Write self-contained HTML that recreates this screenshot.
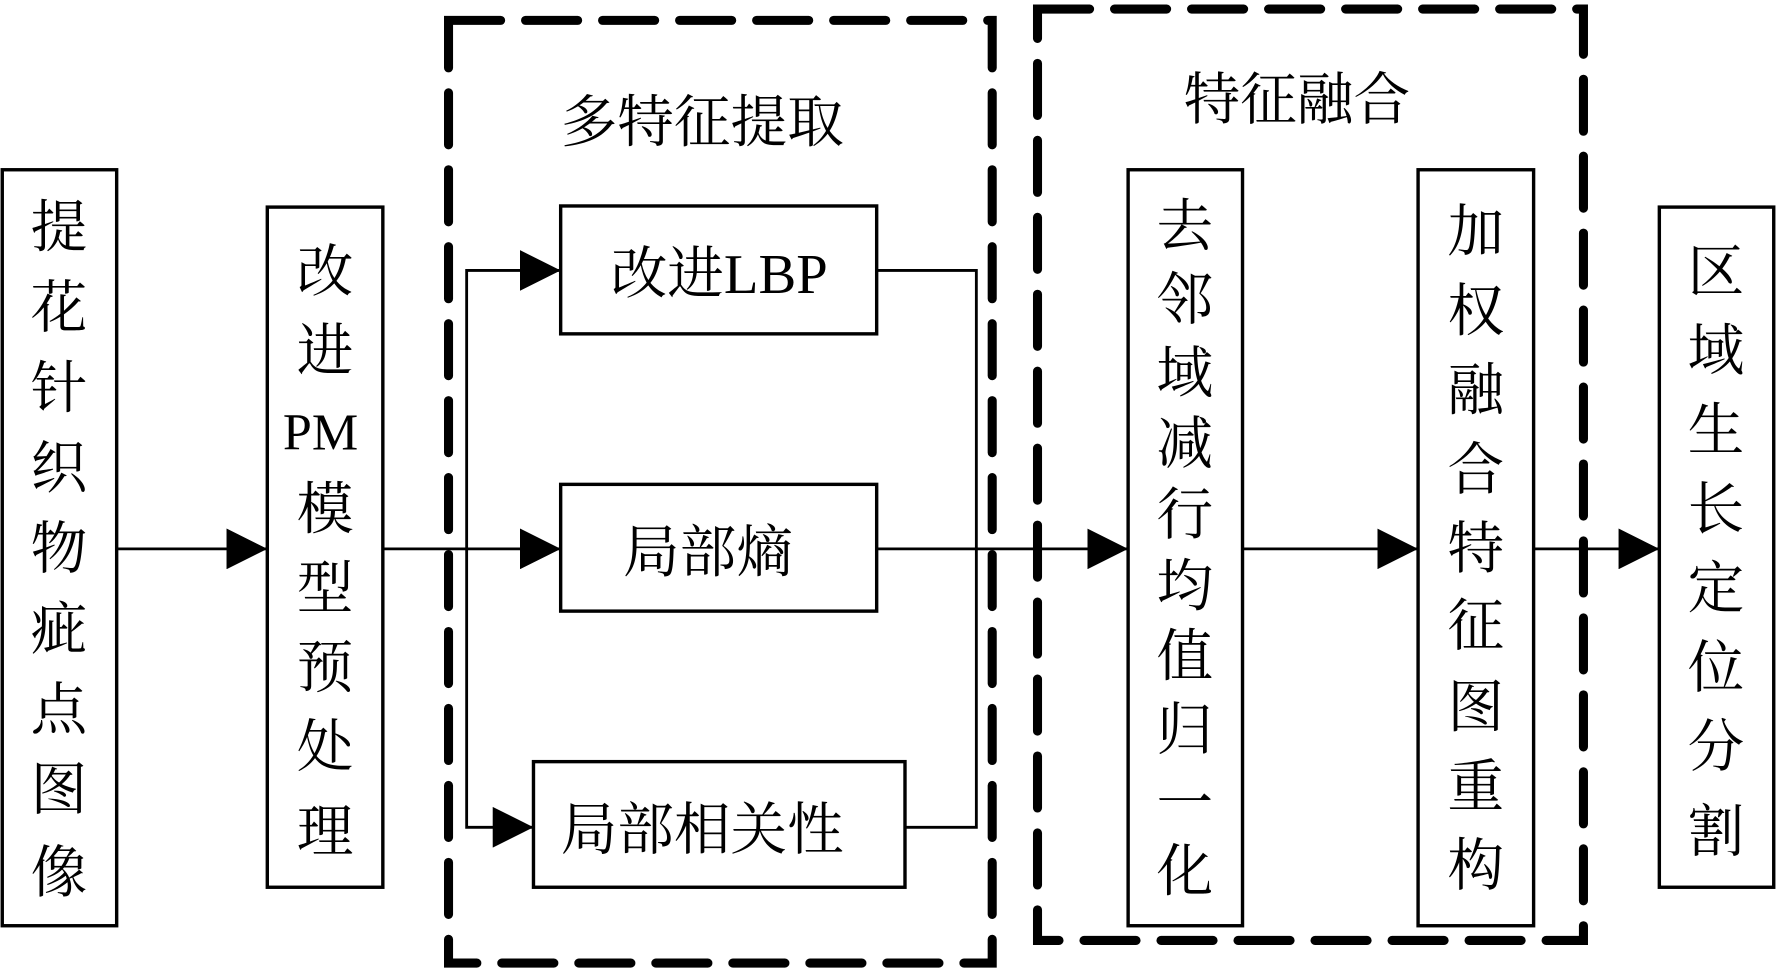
<!DOCTYPE html>
<html><head><meta charset="utf-8"><style>
html,body{margin:0;padding:0;background:#fff;}
svg{display:block;}
text{font-family:"Liberation Serif","Noto Serif CJK SC",serif;font-size:50px;fill:#000;}
</style></head><body>
<svg width="1776" height="971" viewBox="0 0 1568 858" preserveAspectRatio="none" xmlns="http://www.w3.org/2000/svg">
<defs><marker id="a" markerWidth="36" markerHeight="36" refX="36" refY="18" orient="auto" markerUnits="userSpaceOnUse"><path d="M0,0 L36,18 L0,36 Z" fill="#000"/></marker></defs>
<g fill="none" stroke="#000" stroke-width="8" stroke-dasharray="46 22" stroke-linecap="round">
<rect x="396" y="18" width="480" height="833"/>
<rect x="916" y="8" width="482" height="823"/>
</g>
<g fill="none" stroke="#000" stroke-width="3">
<rect x="2" y="150" width="101" height="668"/>
<rect x="236" y="183" width="102" height="601"/>
<rect x="495" y="182" width="279" height="113"/>
<rect x="495" y="428" width="279" height="112"/>
<rect x="471" y="673" width="328" height="111"/>
<rect x="996" y="150" width="101" height="668"/>
<rect x="1252" y="150" width="102" height="668"/>
<rect x="1465" y="183" width="101" height="601"/>
</g>
<g fill="none" stroke="#000" stroke-width="2.5">
<line x1="103" y1="485" x2="236" y2="485" marker-end="url(#a)"/>
<line x1="338" y1="485" x2="495" y2="485" marker-end="url(#a)"/>
<polyline points="412,485 412,239 495,239" marker-end="url(#a)"/>
<polyline points="412,485 412,731 471,731" marker-end="url(#a)"/>
<polyline points="774,239 862,239 862,731 799,731"/>
<line x1="774" y1="485" x2="996" y2="485" marker-end="url(#a)"/>
<line x1="1097" y1="485" x2="1252" y2="485" marker-end="url(#a)"/>
<line x1="1354" y1="485" x2="1465" y2="485" marker-end="url(#a)"/>
</g>
<g text-anchor="middle">
<text x="620" y="125">多特征提取</text>
<text x="1145" y="105">特征融合</text>
<text x="635" y="259">改进LBP</text>
<text x="625" y="505">局部熵</text>
<text x="620" y="750">局部相关性</text>
</g>
<g text-anchor="middle">
<text x="52" y="218">提</text><text x="52" y="289">花</text><text x="52" y="360">针</text><text x="52" y="431">织</text><text x="52" y="502">物</text><text x="52" y="573">疵</text><text x="52" y="644">点</text><text x="52" y="715">图</text><text x="52" y="788">像</text>
<text x="287" y="257">改</text><text x="287" y="327">进</text><text x="283" y="397" style="font-size:46px">PM</text><text x="287" y="467">模</text><text x="287" y="537">型</text><text x="287" y="607">预</text><text x="287" y="677">处</text><text x="287" y="752">理</text>
<text x="1046" y="217">去</text><text x="1046" y="282">邻</text><text x="1046" y="347">域</text><text x="1046" y="409">减</text><text x="1046" y="472">行</text><text x="1046" y="535">均</text><text x="1046" y="597">值</text><text x="1046" y="662">归</text><text x="1046" y="727">一</text><text x="1046" y="787">化</text>
<text x="1303" y="222">加</text><text x="1303" y="292">权</text><text x="1303" y="362">融</text><text x="1303" y="432">合</text><text x="1303" y="502">特</text><text x="1303" y="570">征</text><text x="1303" y="642">图</text><text x="1303" y="712">重</text><text x="1303" y="782">构</text>
<text x="1515" y="257">区</text><text x="1515" y="327">域</text><text x="1515" y="397">生</text><text x="1515" y="467">长</text><text x="1515" y="537">定</text><text x="1515" y="607">位</text><text x="1515" y="677">分</text><text x="1515" y="752">割</text>
</g>
</svg>
</body></html>
